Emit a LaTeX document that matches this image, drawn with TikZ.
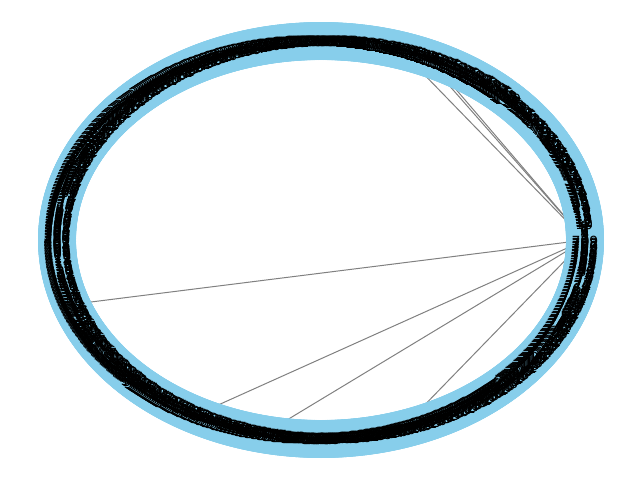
\documentclass[tikz,border=0pt]{standalone}
\usepackage{fontspec}
\setmainfont{DejaVu Sans}
\usetikzlibrary{backgrounds}
\definecolor{NodeBlue}{HTML}{87CEEB}
\definecolor{EdgeGray}{HTML}{808080}
\tikzset{
  ringnode/.style={circle,fill=NodeBlue,inner sep=0pt,minimum size=38pt},
  ringlabel/.style={inner sep=0pt,font=\fontsize{14}{16}\selectfont,text=black},
  edgeline/.style={draw=EdgeGray,line width=1pt}
}

\begin{document}
\begin{tikzpicture}[x=1pt,y=-1pt]
\useasboundingbox (0,0) rectangle (640,480);
% nodes on the ring
\foreach \i in {0,...,799}
  \node[ringnode] (n\i) at ({321+264*cos(0.45*\i)},{240-199*sin(0.45*\i)}) {};
% edges from node 0
\begin{pgfonlayer}{background}
\foreach \j in {146,149,161,442,537,572,639}
  \draw[edgeline] (n0.center) -- (n\j.center);
\end{pgfonlayer}
% labels
\foreach \i in {0,...,799}
  \node[ringlabel] (l\i) at (n\i) {\i};
\end{tikzpicture}
\end{document}
